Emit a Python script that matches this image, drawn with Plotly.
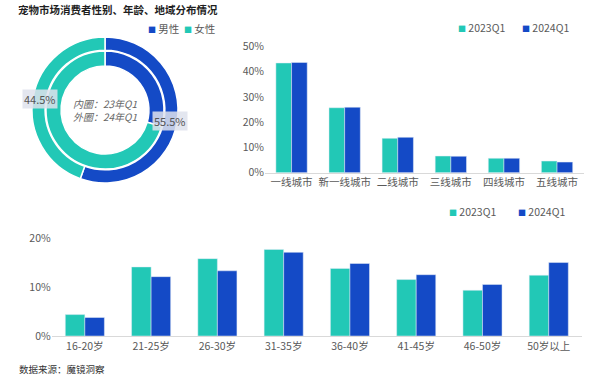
import math
import plotly.graph_objects as go

# ---------------- data ----------------
gender_labels = ["男性", "女性"]
gender_23q1 = [29.5, 70.5]   # inner ring
gender_24q1 = [55.5, 44.5]   # outer ring

city_cats = ["一线城市", "新一线城市", "二线城市", "三线城市", "四线城市", "五线城市"]
city_2023 = [43.4, 25.7, 13.6, 6.6, 5.7, 4.6]
city_2024 = [43.6, 25.9, 14.0, 6.5, 5.7, 4.2]

age_cats = ["16-20岁", "21-25岁", "26-30岁", "31-35岁", "36-40岁", "41-45岁", "46-50岁", "50岁以上"]
age_2023 = [4.4, 14.2, 15.9, 17.8, 13.9, 11.6, 9.4, 12.5]
age_2024 = [3.8, 12.2, 13.4, 17.2, 14.9, 12.6, 10.6, 15.1]

series_names = ["2023Q1", "2024Q1"]
center_lines = ["内圈：23年Q1", "外圈：24年Q1"]

# ---------------- style ----------------
W, H = 600, 380
TEAL = "#22C8B6"
BLUE = "#144AC6"
FONT = "Noto Sans CJK SC"
GRAY = "#595959"


def px(x):
    return x / W


def py(y):
    return 1 - y / H


cx, cy = 105, 110
R_OUT, R_IN = 73, 59

fig = go.Figure()

# outer ring (24Q1)
fig.add_trace(go.Pie(
    labels=gender_labels, values=gender_24q1, sort=False, direction="clockwise",
    hole=0.82, textinfo="none", hoverinfo="label+percent",
    marker=dict(colors=[BLUE, TEAL], line=dict(color="white", width=1.5)),
    domain=dict(x=[px(cx - R_OUT), px(cx + R_OUT)], y=[py(cy + R_OUT), py(cy - R_OUT)]),
    showlegend=False,
))
# inner ring (23Q1)
fig.add_trace(go.Pie(
    labels=gender_labels, values=gender_23q1, sort=False, direction="clockwise",
    hole=0.745, textinfo="none", hoverinfo="label+percent",
    marker=dict(colors=[BLUE, TEAL], line=dict(color="white", width=1.5)),
    domain=dict(x=[px(cx - R_IN), px(cx + R_IN)], y=[py(cy + R_IN), py(cy - R_IN)]),
    showlegend=False,
))

# city bars
for name, vals, col in zip(series_names, [city_2023, city_2024], [TEAL, BLUE]):
    fig.add_trace(go.Bar(x=city_cats, y=vals, name=name, marker_color=col,
                         xaxis="x", yaxis="y", showlegend=False))
# age bars
for name, vals, col in zip(series_names, [age_2023, age_2024], [TEAL, BLUE]):
    fig.add_trace(go.Bar(x=age_cats, y=vals, name=name, marker_color=col,
                         xaxis="x2", yaxis="y2", showlegend=False))

annotations = []
# percentage labels on outer ring
cum = 0
r_lab = 66
for v in gender_24q1:
    mid = math.radians((cum + v / 2) / 100 * 360)
    sx = cx + r_lab * math.sin(mid)
    sy = cy - r_lab * math.cos(mid)
    annotations.append(dict(
        x=px(sx), y=py(sy), xref="paper", yref="paper", showarrow=False,
        xanchor="center", yanchor="middle",
        text=f"{v:.1f}%", font=dict(size=11, color="#555555", family=FONT),
        bgcolor="rgba(222,226,236,0.85)", borderpad=1,
    ))
    cum += v

for i, line in enumerate(center_lines):
    annotations.append(dict(
        x=px(cx), y=py(cy - 7 + 14 * i), xref="paper", yref="paper", showarrow=False,
        xanchor="center", yanchor="middle", borderpad=0,
        text=f"<i>{line}</i>",
        font=dict(size=10, color="#666666", family=FONT),
    ))

annotations.append(dict(
    x=px(16), y=py(10), xref="paper", yref="paper", showarrow=False,
    xanchor="left", yanchor="middle",
    text="<b>宠物市场消费者性别、年龄、地域分布情况</b>",
    font=dict(size=10.5, color="#1F1F1F", family=FONT),
))
annotations.append(dict(
    x=px(17), y=py(369), xref="paper", yref="paper", showarrow=False,
    xanchor="left", yanchor="middle",
    text="数据来源：魔镜洞察",
    font=dict(size=9.5, color="#333333", family=FONT),
))


def legend_item(x, y, color, label):
    return dict(
        x=px(x), y=py(y), xref="paper", yref="paper", showarrow=False,
        xanchor="left", yanchor="middle",
        text=f"<span style='color:{color};font-size:8px'>■</span> {label}",
        font=dict(size=10.5, color=GRAY, family=FONT),
    )


# donut legend
annotations.append(legend_item(146, 28, BLUE, gender_labels[0]))
annotations.append(legend_item(182, 28, TEAL, gender_labels[1]))
# city legend
annotations.append(legend_item(456, 27, TEAL, series_names[0]))
annotations.append(legend_item(520, 27, BLUE, series_names[1]))
# age legend
annotations.append(legend_item(447, 212, TEAL, series_names[0]))
annotations.append(legend_item(516, 212, BLUE, series_names[1]))

axis_common = dict(showgrid=False, zeroline=False, ticks="",
                   tickfont=dict(size=10.5, color=GRAY, family=FONT))

fig.update_layout(
    width=W, height=H, margin=dict(l=0, r=0, t=0, b=0, autoexpand=False),
    paper_bgcolor="white", plot_bgcolor="white",
    font=dict(family=FONT, color=GRAY),
    showlegend=False,
    barmode="group", bargap=0.41, bargroupgap=0,
    xaxis=dict(domain=[px(265), px(583.6)], anchor="y", showline=True,
               linecolor="#D9D9D9", linewidth=1, **axis_common),
    yaxis=dict(domain=[py(172.7), py(46.3)], anchor="x", range=[0, 50], dtick=10,
               ticksuffix="%", showline=False, **axis_common),
    xaxis2=dict(domain=[px(51.7), px(581.9)], anchor="y2", showline=True,
                linecolor="#D9D9D9", linewidth=1, **axis_common),
    yaxis2=dict(domain=[py(336), py(238.7)], anchor="x2", range=[0, 20], dtick=10,
                ticksuffix="%", showline=False, **axis_common),
    annotations=annotations,
)

fig.write_html(
    "out.html",
    config={"displayModeBar": False},
    post_script="document.body.style.margin='0';document.body.style.overflow='hidden';",
)
